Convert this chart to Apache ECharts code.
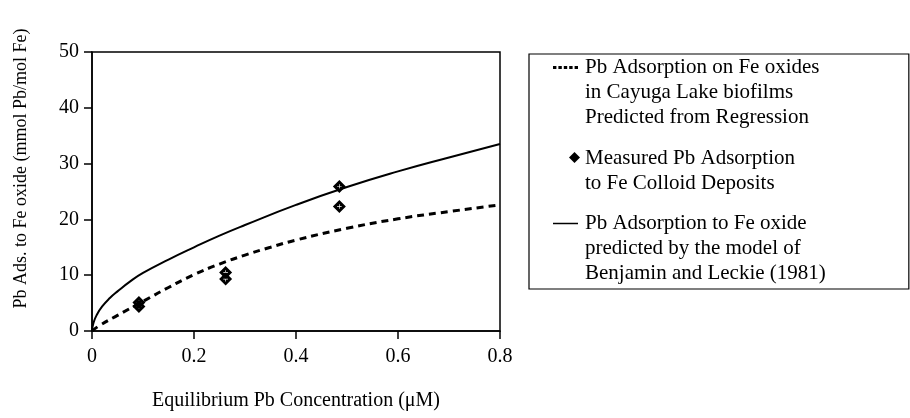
<!DOCTYPE html>
<html>
<head>
<meta charset="utf-8">
<script src="https://cdn.jsdelivr.net/npm/echarts@6/dist/echarts.min.js"></script>
<style>
  html, body { margin: 0; padding: 0; background: #fff; }
  #chart { width: 910px; height: 418px; }
</style>
</head>
<body>
<div id="chart"></div>
<script>
// regression curve (dashed)
const regrConc = [0, 0.015, 0.05, 0.1, 0.15, 0.2, 0.25, 0.3, 0.35, 0.4, 0.5, 0.6, 0.7, 0.8];
const regrAds = [0, 1.0, 2.8, 5.3, 7.8, 10.1, 12.0, 13.6, 15.0, 16.3, 18.4, 20.1, 21.4, 22.6];

// Benjamin & Leckie model (solid)
const modelConc = [0, 0.003, 0.01, 0.02, 0.035, 0.05, 0.075, 0.1, 0.15, 0.2, 0.25, 0.3, 0.4, 0.5, 0.6, 0.7, 0.8];
const modelAds = [0, 1.5, 3.0, 4.4, 5.9, 7.1, 8.9, 10.4, 12.8, 15.0, 17.1, 19.0, 22.6, 25.8, 28.6, 31.1, 33.5];

// measured points
const measConc = [0.092, 0.092, 0.262, 0.262, 0.485, 0.485];
const measAds = [5.1, 4.4, 10.5, 9.3, 25.9, 22.3];

const seriesNames = [
  'Pb Adsorption on Fe oxides\nin Cayuga Lake biofilms\nPredicted from Regression',
  'Measured Pb Adsorption\nto Fe Colloid Deposits',
  'Pb Adsorption to Fe oxide\npredicted by the model of\nBenjamin and Leckie (1981)'
];

const pairs = (xs, ys) => xs.map((x, i) => [x, ys[i]]);

// legend icons drawn in a 27x75 box so the mark sits on the first text line
const dashIcon = 'path://M0,0M27,75M0,11h3.4v3h-3.4zM5.4,11h3.4v3h-3.4zM10.8,11h3.4v3h-3.4zM16.2,11h3.4v3h-3.4zM21.6,11h3.4v3h-3.4z';
const dotIcon = 'path://M0,0M27,75M21.5,19L27,24.5L21.5,30L16,24.5Z';
const lineIcon = 'path://M0,0M27,75M0,11.75h25v1.5h-25z';
// diamond with a thin cross cut out
const diamond = 'path://M0,-10L10,0L0,10L-10,0ZM-0.5,-3.5L-0.5,-0.5L-3.5,-0.5L-3.5,0.5L-0.5,0.5L-0.5,3.5L0.5,3.5L0.5,0.5L3.5,0.5L3.5,-0.5L0.5,-0.5L0.5,-3.5Z';

const chart = echarts.init(document.getElementById('chart'));
const font = 'Liberation Serif';

chart.setOption({
  animation: false,
  textStyle: { fontFamily: font, color: '#000' },
  grid: {
    left: 92, right: 410, top: 52, bottom: 87,
    show: true, borderColor: '#000', borderWidth: 1.5
  },
  xAxis: {
    type: 'value',
    min: 0, max: 0.8, interval: 0.2,
    name: 'Equilibrium Pb Concentration (μM)',
    nameLocation: 'middle',
    nameGap: 60,
    nameTextStyle: { fontSize: 20, fontFamily: font, color: '#000' },
    axisLine: { lineStyle: { color: '#000', width: 1.5 } },
    axisTick: { length: 8, lineStyle: { color: '#000', width: 1.5 } },
    axisLabel: { fontSize: 20, margin: 16, color: '#000', fontFamily: font },
    splitLine: { show: false }
  },
  yAxis: {
    type: 'value',
    min: 0, max: 50, interval: 10,
    name: 'Pb Ads. to Fe oxide (mmol Pb/mol Fe)',
    nameLocation: 'middle',
    nameGap: 62,
    nameTextStyle: { fontSize: 18, fontFamily: font, color: '#000', padding: [0, 0, 0, 46] },
    axisLine: { show: true, lineStyle: { color: '#000', width: 1.5 } },
    axisTick: { show: true, length: 8, lineStyle: { color: '#000', width: 1.5 } },
    axisLabel: { fontSize: 20, margin: 13, color: '#000', fontFamily: font },
    splitLine: { show: false }
  },
  legend: {
    left: 529, top: 54,
    orient: 'vertical',
    selectedMode: false,
    itemWidth: 27, itemHeight: 75, itemGap: 3,
    padding: [1, 83, 3, 24],
    borderColor: '#000', borderWidth: 1.2,
    itemStyle: { borderWidth: 0 },
    textStyle: { fontSize: 21, lineHeight: 25, fontFamily: font, color: '#000' },
    data: [
      { name: seriesNames[0], icon: dashIcon },
      { name: seriesNames[1], icon: dotIcon },
      { name: seriesNames[2], icon: lineIcon }
    ]
  },
  series: [
    {
      name: seriesNames[0],
      type: 'line',
      data: pairs(regrConc, regrAds),
      smooth: 0.5,
      symbol: 'none',
      color: '#000',
      lineStyle: { color: '#000', width: 3, type: [7, 5] },
      z: 3
    },
    {
      name: seriesNames[1],
      type: 'scatter',
      data: pairs(measConc, measAds),
      symbol: diamond,
      symbolSize: 13,
      color: '#000',
      itemStyle: { color: '#000', opacity: 1 },
      z: 4
    },
    {
      name: seriesNames[2],
      type: 'line',
      data: pairs(modelConc, modelAds),
      smooth: 0.5,
      symbol: 'none',
      color: '#000',
      lineStyle: { color: '#000', width: 2 },
      z: 3
    }
  ]
});
</script>
</body>
</html>
